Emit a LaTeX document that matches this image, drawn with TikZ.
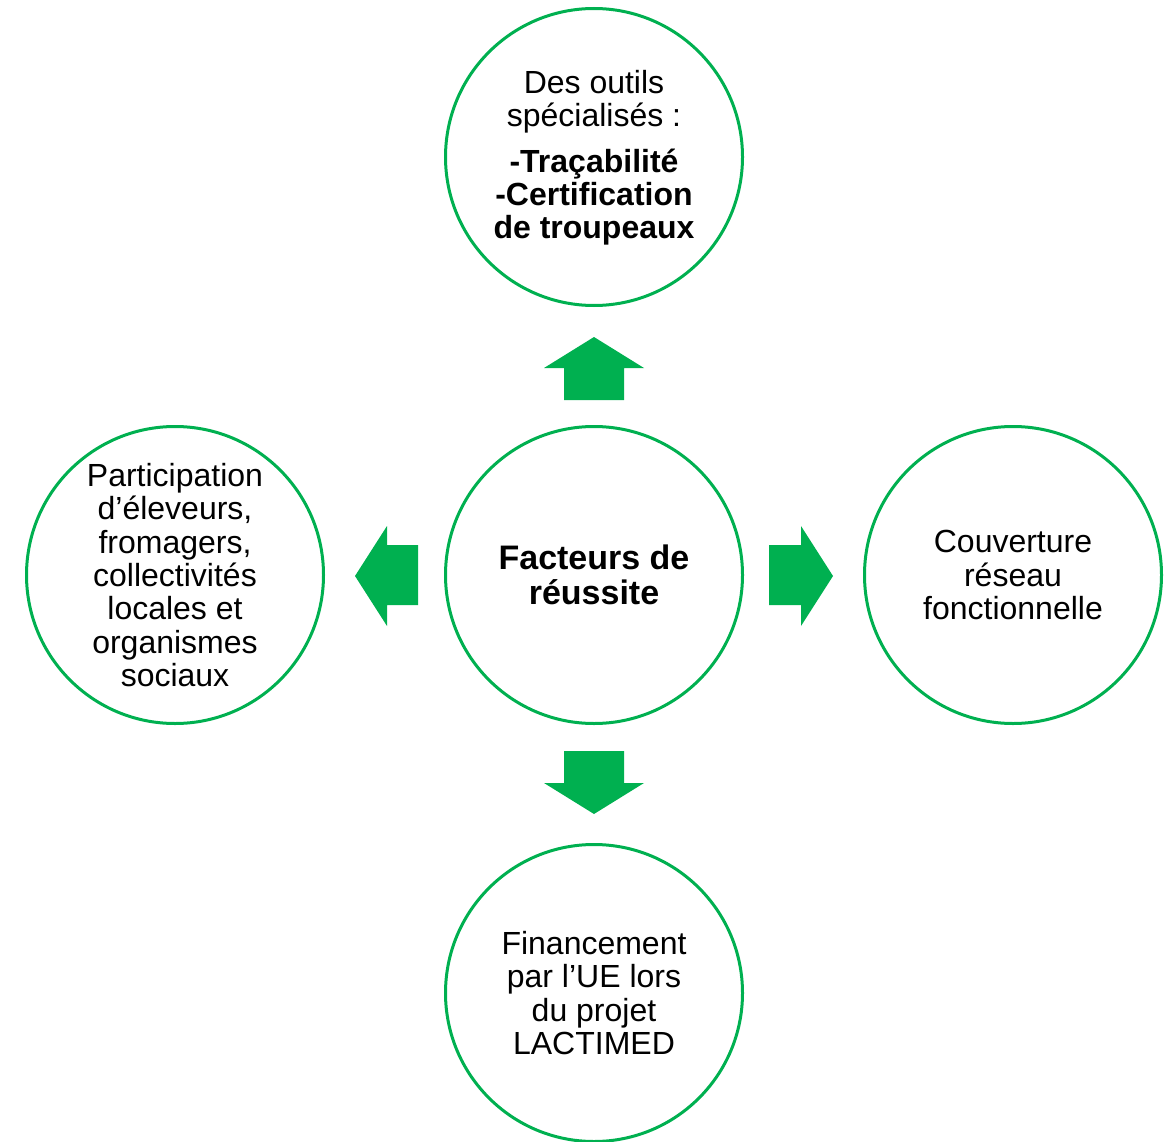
\documentclass[tikz,border=0pt]{standalone}
\usepackage{fontspec}
\setmainfont{Liberation Sans}
\definecolor{grn}{HTML}{00B050}
\begin{document}
\begin{tikzpicture}[x=1pt,y=-1pt,
  ring/.style={circle,draw=grn,line width=3pt,minimum size=297pt,inner sep=0pt,fill=white},
  txt/.style={align=center,font=\fontsize{32}{33.3}\selectfont},
  blockarrow/.style={fill=grn,draw=none}]
\useasboundingbox (0,0) rectangle (1175,1142);
\begin{scope}
\clip (0,0) rectangle (1175,1142);
\node[ring] (c) at (594,575) {};
\node[ring] (t) at (594,157) {};
\node[ring] (l) at (175,575) {};
\node[ring] (r) at (1013,575) {};
\node[ring] (b) at (594,993) {};
\end{scope}
\node[txt,font=\fontsize{34}{35}\selectfont\bfseries] (ct) at (c.center) {Facteurs de\\réussite};
\node[txt] (tt) at (594,158) {Des outils\\spécialisés :\\[12pt]\textbf{-Traçabilité}\\\textbf{-Certification}\\\textbf{de troupeaux}};
\node[txt] (lt) at (l.center) {Participation\\d’éleveurs,\\fromagers,\\collectivités\\locales et\\organismes\\sociaux};
\node[txt] (rt) at (r.center) {Couverture\\réseau\\fonctionnelle};
\node[txt] (bt) at (b.center) {Financement\\par l’UE lors\\du projet\\LACTIMED};
% up arrow
\fill[blockarrow] (564,400) -- (564,368) -- (544,368) -- (594,337) -- (644,368) -- (624,368) -- (624,400) -- cycle;
% down arrow
\fill[blockarrow] (564,751) -- (564,783) -- (544,783) -- (594,814) -- (644,783) -- (624,783) -- (624,751) -- cycle;
% left arrow
\fill[blockarrow] (418,545) -- (387,545) -- (387,526) -- (355,576) -- (387,626) -- (387,605) -- (418,605) -- cycle;
% right arrow
\fill[blockarrow] (769,545) -- (801,545) -- (801,526) -- (833,576) -- (801,626) -- (801,605) -- (769,605) -- cycle;
\end{tikzpicture}
\end{document}
